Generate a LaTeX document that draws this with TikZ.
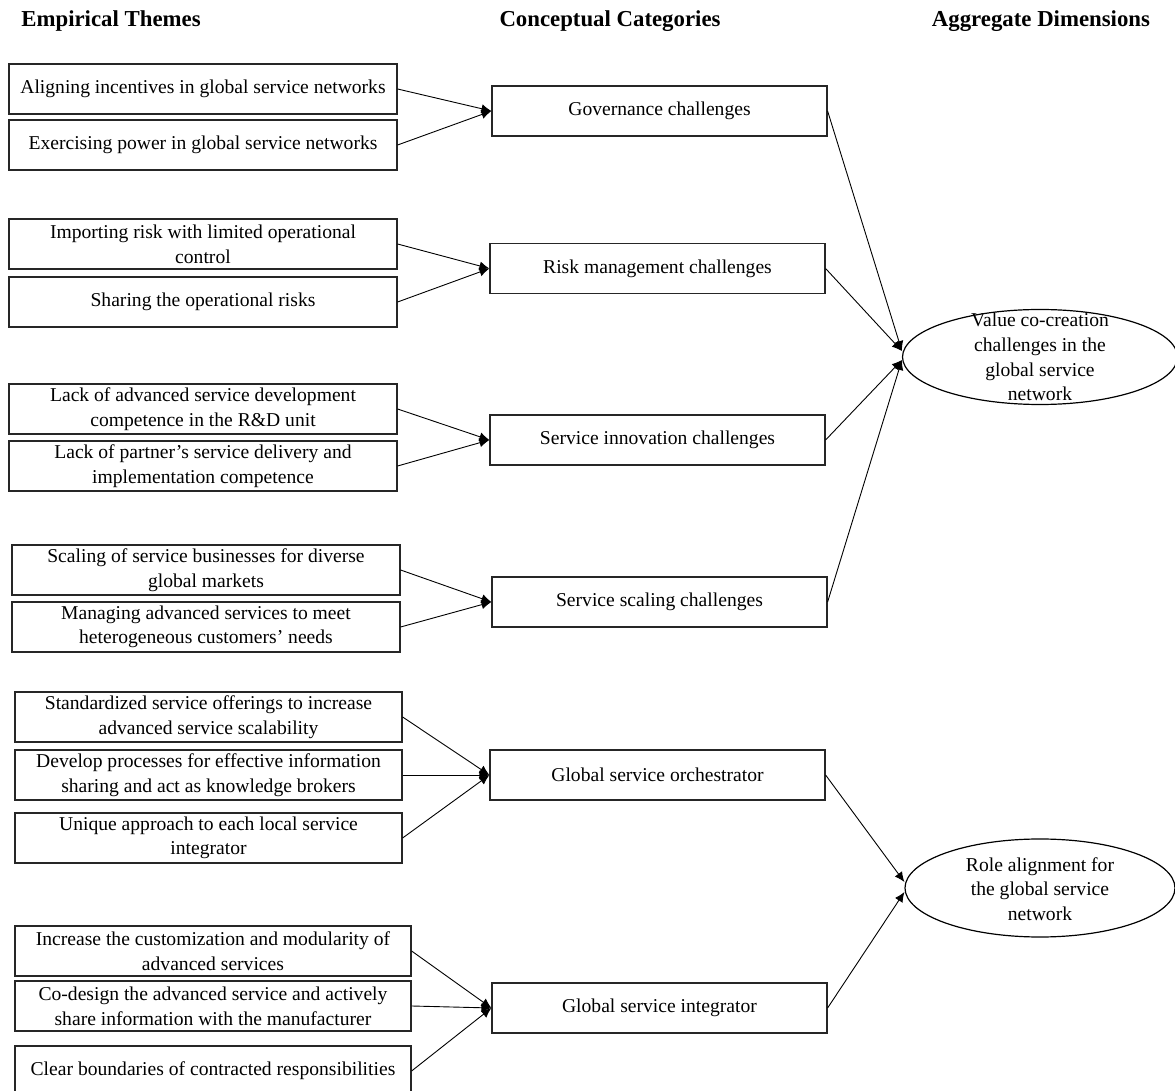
\documentclass[tikz,border=0pt]{standalone}
\usepackage{fontspec}
\setmainfont{Liberation Serif}
\usetikzlibrary{arrows.meta,shapes.geometric}

\begin{document}
\begin{tikzpicture}[x=0.5pt,y=-0.5pt,
    font=\fontsize{9.8}{12.3}\selectfont,
    theme/.style={draw=black!85,line width=0.6pt,minimum height=25pt,inner sep=0pt,align=center},
    cat/.style={draw=black!85,line width=0.6pt,minimum width=167.5pt,minimum height=25pt,inner sep=0pt},
    dim/.style={draw,ellipse,line width=0.6pt,inner sep=0pt},
    head/.style={font=\fontsize{11.4}{13}\selectfont\bfseries},
    link/.style={-{Latex[length=5pt,width=4.5pt]},line width=0.45pt}]
    \useasboundingbox (0,0) rectangle (1175,1091);

    % column headings
    \node[head] (hthemes) at (111,21)  {Empirical Themes};
    \node[head] (hcats)   at (610,21)  {Conceptual Categories};
    \node[head] (hdims)   at (1041,21) {Aggregate Dimensions};

    % empirical themes
    \node[theme,minimum width=194pt] (align)   at (203,89)  {Aligning incentives in global service networks};
    \node[theme,minimum width=194pt] (power)   at (203,145) {Exercising power in global service networks};
    \node[theme,minimum width=194pt] (import)  at (203,244) {Importing risk with limited operational\\control};
    \node[theme,minimum width=194pt] (share)   at (203,302) {Sharing the operational risks};
    \node[theme,minimum width=194pt] (lackrd)  at (203,409) {Lack of advanced service development\\competence in the R\&D unit};
    \node[theme,minimum width=194pt] (lackpt)  at (203,466) {Lack of partner’s service delivery and\\implementation competence};
    \node[theme,minimum width=194pt] (scaling) at (206,570) {Scaling of service businesses for diverse\\global markets};
    \node[theme,minimum width=194pt] (manage)  at (206,627) {Managing advanced services to meet\\heterogeneous customers’ needs};
    \node[theme,minimum width=193.5pt] (stand)   at (208.5,717) {Standardized service offerings to increase\\advanced service scalability};
    \node[theme,minimum width=193.5pt] (develop) at (208.5,775) {Develop processes for effective information\\sharing and act as knowledge brokers};
    \node[theme,minimum width=193.5pt] (unique)  at (208.5,838) {Unique approach to each local service\\integrator};
    \node[theme,minimum width=198pt] (custom)  at (213,951)  {Increase the customization and modularity of\\advanced services};
    \node[theme,minimum width=198pt] (codes)   at (213,1006) {Co-design the advanced service and actively\\share information with the manufacturer};
    \node[theme,minimum width=198pt] (bounds)  at (213,1071) {Clear boundaries of contracted responsibilities};

    % conceptual categories
    \node[cat] (gov)   at (659.5,111) {Governance challenges};
    \node[cat] (risk)  at (657.5,268.5) {Risk management challenges};
    \node[cat] (innov) at (657.5,440) {Service innovation challenges};
    \node[cat] (scale) at (659.5,602) {Service scaling challenges};
    \node[cat] (orch)  at (657.5,775) {Global service orchestrator};
    \node[cat] (integ) at (659.5,1008) {Global service integrator};

    % aggregate dimensions
    \node[dim,minimum width=137.5pt,minimum height=47.5pt] (value) at (1040,357) {};
    \node[align=center,inner sep=0pt] (valuetxt) at (1040,357) {Value co-creation\\challenges in the\\global service\\network};
    \node[dim,minimum width=135pt,minimum height=49pt] (role) at (1040,888) {};
    \node[align=center,inner sep=0pt] (roletxt) at (1040,889) {Role alignment for\\the global service\\network};

    % themes -> categories
    \draw[link] (align.east) -- (gov.west);
    \draw[link] (power.east) -- (gov.west);
    \draw[link] (import.east) -- (risk.west);
    \draw[link] (share.east) -- (risk.west);
    \draw[link] (lackrd.east) -- (innov.west);
    \draw[link] (lackpt.east) -- (innov.west);
    \draw[link] (scaling.east) -- (scale.west);
    \draw[link] (manage.east) -- (scale.west);
    \draw[link] (stand.east) -- (orch.west);
    \draw[link] (develop.east) -- (orch.west);
    \draw[link] (unique.east) -- (orch.west);
    \draw[link] (custom.east) -- (integ.west);
    \draw[link] (codes.east) -- (integ.west);
    \draw[link] (bounds.east) -- (integ.west);

    % categories -> dimensions
    \draw[link] (gov.east) -- ([yshift=3pt]value.west);
    \draw[link] (risk.east) -- ([yshift=3pt]value.west);
    \draw[link] (innov.east) -- ([yshift=-1.5pt]value.west);
    \draw[link] (scale.east) -- ([yshift=-1.5pt]value.west);
    \draw[link] (orch.east) -- ([yshift=3pt]role.west);
    \draw[link] (integ.east) -- ([yshift=-2pt]role.west);
\end{tikzpicture}
\end{document}
